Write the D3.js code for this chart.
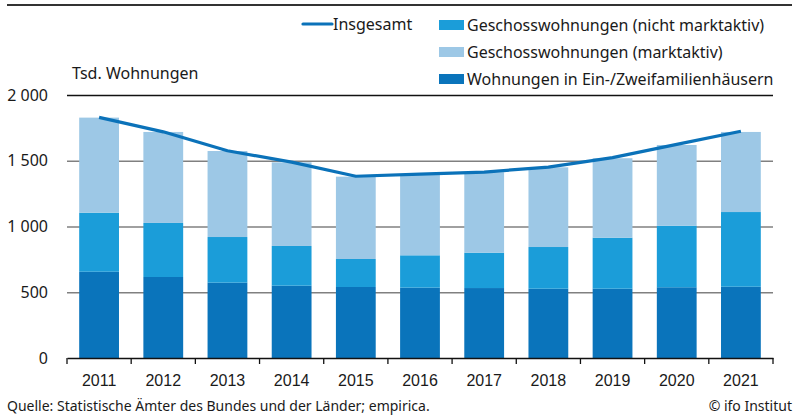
<!DOCTYPE html>
<html>
<head>
<meta charset="utf-8">
<script src="https://cdn.jsdelivr.net/npm/d3@7"></script>
<style>
  body { margin: 0; background: #fff; }
  svg { display: block; font-family: 'Noto Sans', sans-serif; }
</style>
</head>
<body>
<div id="chart"></div>
<script>
const years = ['2011', '2012', '2013', '2014', '2015', '2016', '2017', '2018', '2019', '2020', '2021']
const ezfh = [656, 616, 573, 550, 540, 535, 532, 527, 527, 538, 542]
const nichtMarktaktiv = [449, 411, 347, 302, 213, 246, 269, 317, 388, 468, 568]
const marktaktiv = [723, 692, 654, 636, 626, 611, 611, 606, 604, 614, 609]
const insgesamt = [1830, 1720, 1576, 1490, 1382, 1398, 1414, 1452, 1524, 1625, 1724]
const yTicks = [0, 500, 1000, 1500, 2000]

const width = 794
const height = 416
const margin = { top: 95, right: 21, bottom: 58, left: 67 }

const colors = {
  ezfh: '#0a74bb',
  nicht: '#1b9dd9',
  markt: '#9dc8e6',
  line: '#0b72b9'
}

const fmt = v => d3.format(',')(v).replace(/,/g, ' ')

const rows = years.map((year, i) => ({
  year,
  ezfh: ezfh[i],
  nicht: nichtMarktaktiv[i],
  markt: marktaktiv[i]
}))

const stack = d3.stack().keys(['ezfh', 'nicht', 'markt'])(rows)

const svg = d3
  .select('#chart')
  .append('svg')
  .attr('width', width)
  .attr('height', height)

const x = d3
  .scaleBand()
  .domain(years)
  .range([margin.left, width - margin.right])
  .paddingInner(0.38)
  .paddingOuter(0.19)

const y = d3
  .scaleLinear()
  .domain([0, 2000])
  .range([height - margin.bottom, margin.top])

// top rule
svg
  .append('line')
  .attr('x1', 7)
  .attr('x2', 792)
  .attr('y1', 5)
  .attr('y2', 5)
  .attr('stroke', '#333')
  .attr('stroke-width', 2)

// gridlines
svg
  .append('g')
  .selectAll('line')
  .data(yTicks.filter(d => d > 0))
  .join('line')
  .attr('x1', margin.left)
  .attr('x2', width - margin.right)
  .attr('y1', d => y(d) + 0.5)
  .attr('y2', d => y(d) + 0.5)
  .attr('stroke', d => (d === 2000 ? '#111' : '#808080'))
  .attr('stroke-width', 1.3)

// y labels
svg
  .append('g')
  .selectAll('text')
  .data(yTicks)
  .join('text')
  .attr('x', 48)
  .attr('y', d => y(d))
  .attr('dy', '0.35em')
  .attr('text-anchor', 'end')
  .attr('font-size', 16)
  .attr('fill', '#1a1a1a')
  .text(fmt)

svg
  .append('text')
  .attr('x', 72)
  .attr('y', 79)
  .attr('font-size', 16)
  .attr('fill', '#1a1a1a')
  .text('Tsd. Wohnungen')

// bars
const layerColor = { ezfh: colors.ezfh, nicht: colors.nicht, markt: colors.markt }
svg
  .append('g')
  .selectAll('g')
  .data(stack)
  .join('g')
  .attr('fill', d => layerColor[d.key])
  .selectAll('rect')
  .data(d => d)
  .join('rect')
  .attr('x', d => x(d.data.year))
  .attr('y', d => y(d[1]))
  .attr('width', x.bandwidth())
  .attr('height', d => y(d[0]) - y(d[1]))

// x axis
const xAxis = g =>
  g
    .attr('transform', `translate(0, ${height - margin.bottom})`)
    .call(d3.axisBottom(x).tickSize(0).tickPadding(17))
    .call(g => g.select('.domain').attr('stroke', '#111').attr('stroke-width', 1.3))
    .call(g => g.selectAll('text').attr('font-size', 16).attr('fill', '#1a1a1a').attr('font-family', null))

svg.append('g').call(xAxis)

// ticks between bands
const plotW = width - margin.right - margin.left
svg
  .append('g')
  .selectAll('line')
  .data(d3.range(years.length + 1))
  .join('line')
  .attr('x1', i => margin.left + i * plotW / years.length)
  .attr('x2', i => margin.left + i * plotW / years.length)
  .attr('y1', height - margin.bottom)
  .attr('y2', height - margin.bottom + 6)
  .attr('stroke', '#111')
  .attr('stroke-width', 1.3)

// total line
const line = d3
  .line()
  .x((_, i) => x(years[i]) + x.bandwidth() / 2)
  .y(d => y(d))

svg
  .append('path')
  .datum(insgesamt)
  .attr('fill', 'none')
  .attr('stroke', colors.line)
  .attr('stroke-width', 3.2)
  .attr('stroke-linejoin', 'round')
  .attr('d', line)

// legend
const legend = svg.append('g').attr('font-size', 16).attr('fill', '#1a1a1a')
legend
  .append('line')
  .attr('x1', 303)
  .attr('x2', 332)
  .attr('y1', 24)
  .attr('y2', 24)
  .attr('stroke', colors.line)
  .attr('stroke-width', 3.2)
  .attr('stroke-linecap', 'round')
legend
  .append('text')
  .attr('x', 333)
  .attr('y', 24)
  .attr('dy', '0.35em')
  .text('Insgesamt')

const legendItems = [
  { label: 'Geschosswohnungen (nicht marktaktiv)', color: colors.nicht },
  { label: 'Geschosswohnungen (marktaktiv)', color: colors.markt },
  { label: 'Wohnungen in Ein-/Zweifamilienhäusern', color: colors.ezfh }
]
const li = legend
  .selectAll('g.item')
  .data(legendItems)
  .join('g')
  .attr('class', 'item')
  .attr('transform', (_, i) => `translate(439, ${25 + i * 27})`)
li.append('rect')
  .attr('x', 0)
  .attr('y', -5)
  .attr('width', 25)
  .attr('height', 10)
  .attr('fill', d => d.color)
li.append('text')
  .attr('x', 28)
  .attr('dy', '0.35em')
  .text(d => d.label)

// footer
svg
  .append('text')
  .attr('x', 7)
  .attr('y', 411)
  .attr('font-size', 14)
  .attr('fill', '#1a1a1a')
  .text('Quelle: Statistische Ämter des Bundes und der Länder; empirica.')

svg
  .append('text')
  .attr('x', 792)
  .attr('y', 411)
  .attr('text-anchor', 'end')
  .attr('font-size', 14)
  .attr('fill', '#1a1a1a')
  .text('© ifo Institut')
</script>
</body>
</html>
